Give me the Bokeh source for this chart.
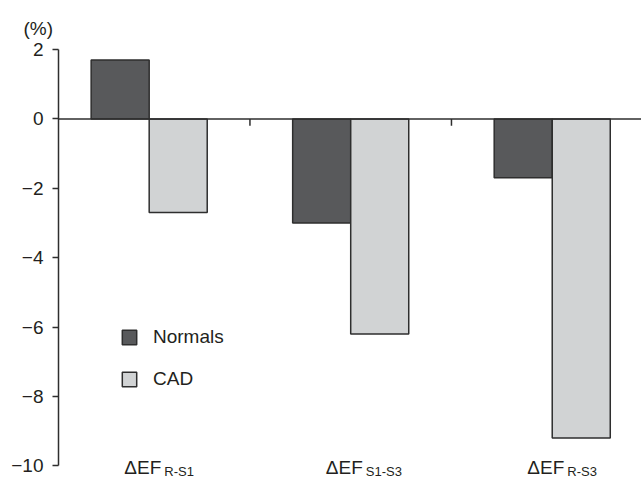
import numpy as np
from bokeh.plotting import figure
from bokeh.models import (ColumnDataSource, Range1d, FixedTicker, Span, Legend,
                          LegendItem, Title)
from bokeh.core.properties import value
from bokeh.embed import file_html
from bokeh.resources import INLINE

# Change in ejection fraction (%) between stages
categories = ["R-S1", "S1-S3", "R-S3"]
normals = [1.7, -3.0, -1.7]
cad = [-2.7, -6.2, -9.2]
series_names = ["Normals", "CAD"]
y_ticks = [2, 0, -2, -4, -6, -8, -10]

FONT = "Liberation Sans"
TEXT = "#231f20"
EDGE = "#2e2e2e"
DARK = "#58595b"
LIGHT = "#d1d3d4"

bar_w = 0.288
centers = np.arange(len(categories)) + 0.5

src = ColumnDataSource(dict(
    x_n=centers - bar_w / 2,
    x_c=centers + bar_w / 2,
    normals=normals,
    cad=cad,
))

p = figure(width=641, height=479, output_backend="svg", toolbar_location=None,
           x_axis_type=None,
           x_range=Range1d(0.05, 2.943), y_range=Range1d(-10.395, 2.0),
           min_border_left=58, min_border_right=0, min_border_top=49,
           min_border_bottom=0)
p.outline_line_color = None
p.ygrid.visible = False
p.xgrid.visible = False
p.background_fill_color = "white"
p.border_fill_color = "white"

r_n = p.vbar(x="x_n", top="normals", bottom=0, width=bar_w, source=src,
             fill_color=DARK, line_color=EDGE, line_width=1.5)
r_c = p.vbar(x="x_c", top="cad", bottom=0, width=bar_w, source=src,
             fill_color=LIGHT, line_color=EDGE, line_width=1.5)

# zero baseline
p.add_layout(Span(location=0, dimension="width", line_color=EDGE, line_width=1.5))

# small ticks on the baseline between categories
bounds = np.arange(1, len(categories))
p.segment(x0=bounds, x1=bounds, y0=0, y1=-0.2, line_color=EDGE, line_width=1.5)

# category labels: "ΔEF" with a subscript
sub_src = ColumnDataSource(dict(x_main=centers + 0.06, x_sub=centers + 0.075,
                                main=["ΔEF"] * len(categories), sub=categories))
p.text(x="x_main", y=-10.056, text="main", source=sub_src, text_align="right",
       text_baseline="alphabetic", text_font=value(FONT), text_font_size="19px",
       text_color=TEXT)
p.text(x="x_sub", y=-10.17, text="sub", source=sub_src, text_align="left",
       text_baseline="alphabetic", text_font=value(FONT), text_font_size="13px",
       text_color=TEXT)

ax = p.yaxis[0]
ax.ticker = FixedTicker(ticks=y_ticks)
ax.bounds = (-10, 2)
ax.major_label_overrides = {t: str(t).replace("-", "\u2212") for t in y_ticks}
ax.major_tick_in = 0
ax.major_tick_out = 6
ax.minor_tick_line_color = None
ax.axis_line_color = EDGE
ax.axis_line_width = 1.5
ax.major_tick_line_color = EDGE
ax.major_tick_line_width = 1.5
ax.major_label_standoff = 9
ax.major_label_text_font = FONT
ax.major_label_text_font_size = "19px"
ax.major_label_text_color = TEXT

p.title = Title(text="(%)", align="left", offset=-35, text_font=FONT,
                text_font_size="19px", text_font_style="normal",
                text_color=TEXT, standoff=22)

legend = Legend(items=[LegendItem(label=series_names[0], renderers=[r_n]),
                       LegendItem(label=series_names[1], renderers=[r_c])],
                location=(62, 89), glyph_width=18, glyph_height=18,
                label_height=18, label_standoff=15, spacing=20, padding=0,
                margin=0, border_line_color=None, background_fill_alpha=0,
                label_text_font=FONT, label_text_font_size="19px",
                label_text_color=TEXT)
p.add_layout(legend)

open("out.html", "w").write(file_html(p, INLINE))
